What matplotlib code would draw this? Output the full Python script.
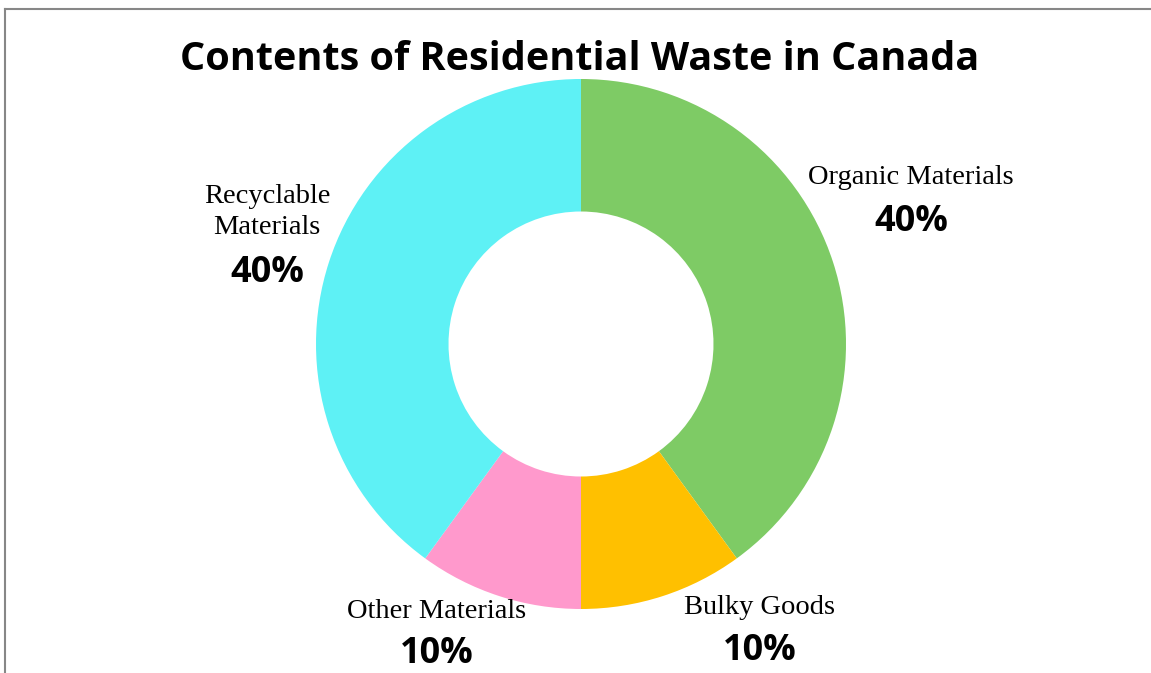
"""
Contents of Residential Waste in Canada - donut chart
"""
import matplotlib
matplotlib.use('Agg')
import matplotlib.pyplot as plt
from matplotlib.lines import Line2D

# data
categories = ['Organic Materials', 'Bulky Goods', 'Other Materials', 'Recyclable\nMaterials']
shares = [40, 10, 10, 40]
colors = ['#7ECB65', '#FFC000', '#FF99CC', '#5EF1F5']

W, H = 1151, 673
fig = plt.figure(figsize=(W / 100, H / 100), dpi=100)

# pie centre / radius in pixels
cx, cy, R = 581, 344, 265
ax = fig.add_axes([(cx - R) / W, 1 - (cy + R) / H, 2 * R / W, 2 * R / H])
ax.pie(shares, colors=colors, startangle=90, counterclock=False, radius=1,
       wedgeprops=dict(width=0.5, edgecolor='none'))
ax.set_xlim(-1, 1)
ax.set_ylim(-1, 1)
ax.set_aspect('auto')
ax.axis('off')

# label anchor points (pixels: name centre, percent centre)
label_pos = [((911, 178), (911, 222)),
             ((760, 607), (760, 651)),
             ((437, 612), (437, 654)),
             ((267, 212), (267, 273))]


def to_data(p):
    return (p[0] - cx) / R, (cy - p[1]) / R


for name, val, (pn, pv) in zip(categories, shares, label_pos):
    x, y = to_data(pn)
    ax.text(x, y, name, ha='center', va='center', fontsize=20.5,
            family='Liberation Serif', linespacing=1.3, clip_on=False)
    x, y = to_data(pv)
    ax.text(x, y, f'{val}%', ha='center', va='center', fontsize=26,
            family='Open Sans', fontweight='bold', clip_on=False)

fig.text(580 / W, 1 - 60 / H, 'Contents of Residential Waste in Canada',
         ha='center', va='center', fontsize=28.5, family='Open Sans',
         fontweight='bold')

# partial frame (left and top edges)
fig.add_artist(Line2D([4.5 / W, 4.5 / W], [0, 1 - 8.5 / H], transform=fig.transFigure,
                      color='#878787', linewidth=1.5))
fig.add_artist(Line2D([4.5 / W, 1], [1 - 8.5 / H, 1 - 8.5 / H], transform=fig.transFigure,
                      color='#878787', linewidth=1.5))

fig.savefig('out.png', dpi=100)
